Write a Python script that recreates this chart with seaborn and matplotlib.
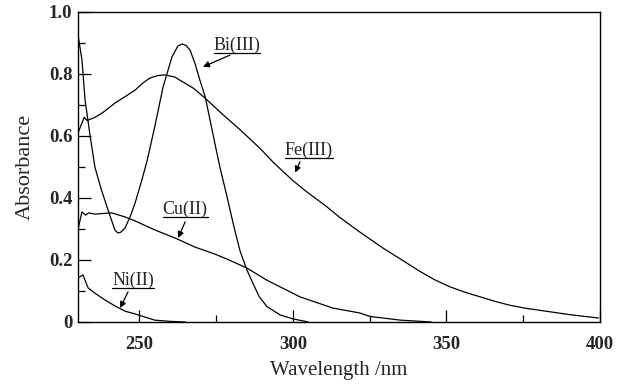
import matplotlib
matplotlib.use("Agg")
import matplotlib.pyplot as plt
import seaborn as sns
import pandas as pd
from matplotlib.ticker import MultipleLocator
from matplotlib.lines import Line2D

# ---- data ----
bi_x = [230, 231.3, 232.3, 234, 235.5, 237.5, 239.8, 242, 243, 244, 245.3, 247, 248.6,
        250.8, 252.5, 255, 257.7, 260.6, 262.5, 263.9, 265.2, 266.5, 268.1, 269.7, 271.4,
        273, 274.6, 276.2, 278.4, 280.6, 282.8, 285, 287.1, 289, 291.5, 295.8, 300, 305]
bi_y = [0.926, 0.845, 0.716, 0.597, 0.50, 0.43, 0.361, 0.297, 0.287, 0.290, 0.303, 0.34, 0.384,
        0.458, 0.52, 0.63, 0.758, 0.855, 0.89, 0.897, 0.892, 0.877, 0.834, 0.78, 0.727,
        0.652, 0.575, 0.50, 0.41, 0.315, 0.228, 0.168, 0.122, 0.082, 0.05, 0.023, 0.01, 0.0]

fe_x = [230, 231, 232, 233, 235.5, 238, 242, 245, 248.6, 251, 253.4, 256, 258.3, 261.6,
        263.2, 267.6, 271.4, 277.3, 282.8, 289.3, 293.6, 300.1, 304.5, 311, 315.3, 321.8,
        329.4, 336, 341.4, 346, 351, 356, 362, 366, 370.7, 376, 383.7, 390, 395, 399.5]
fe_y = [0.61, 0.635, 0.66, 0.65, 0.66, 0.675, 0.706, 0.725, 0.748, 0.77, 0.787, 0.795, 0.797, 0.79,
        0.78, 0.754, 0.722, 0.668, 0.62, 0.56, 0.515, 0.455, 0.42, 0.372, 0.337, 0.29,
        0.238, 0.197, 0.163, 0.137, 0.114, 0.096, 0.078, 0.066, 0.054, 0.044, 0.033, 0.024, 0.018, 0.013]

cu_x = [230, 230.7, 231.3, 232.5, 233.5, 235.5, 238, 241, 245.3, 248.6, 255, 261.6, 268,
        274.6, 278.5, 285, 291.5, 302.3, 313, 321.8, 325, 335, 345]
cu_y = [0.297, 0.33, 0.355, 0.345, 0.352, 0.348, 0.35, 0.352, 0.339, 0.326, 0.297, 0.271, 0.242,
        0.219, 0.203, 0.174, 0.135, 0.081, 0.045, 0.029, 0.018, 0.006, 0.0]

ni_x = [230, 231.6, 233.3, 235.5, 238.8, 242, 245.3, 248.6, 251.8, 255, 260, 265]
ni_y = [0.142, 0.152, 0.11, 0.093, 0.071, 0.052, 0.035, 0.026, 0.016, 0.006, 0.002, 0.0]

labels = ["Bi(III)", "Fe(III)", "Cu(II)", "Ni(II)"]
label_pos = [(281.8, 0.894), (305.2, 0.555), (264.9, 0.363), (247.9, 0.134)]
arrow_start = [(279.5, 0.861), (302.3, 0.517), (264.9, 0.323), (246.3, 0.097)]
arrow_tip = [(270.7, 0.823), (300.7, 0.482), (262.6, 0.271), (243.7, 0.045)]

xticks = [250, 300, 350, 400]
yticks = [0, 0.2, 0.4, 0.6, 0.8, 1.0]
ytick_labels = ["0", "0.2", "0.4", "0.6", "0.8", "1.0"]

# ---- build frame ----
frames = []
for name, xs, ys in [("Bi(III)", bi_x, bi_y), ("Fe(III)", fe_x, fe_y),
                     ("Cu(II)", cu_x, cu_y), ("Ni(II)", ni_x, ni_y)]:
    frames.append(pd.DataFrame({"wl": xs, "abs": ys, "ion": name}))
df = pd.concat(frames, ignore_index=True)

sns.set_theme(style="white")
plt.rcParams["font.family"] = ["Liberation Serif", "DejaVu Serif"]

fig = plt.figure(figsize=(6.32, 3.87), dpi=100)
ax = fig.add_axes([78 / 632, 65 / 387, 522 / 632, 310 / 387])

sns.lineplot(data=df, x="wl", y="abs", units="ion", estimator=None, sort=False,
             color="black", linewidth=0.9, ax=ax, legend=False)

ax.set_xlim(230, 400)
ax.set_ylim(0, 1.0)
ax.set_xticks(xticks)
ax.set_yticks(yticks)
ax.set_yticklabels(ytick_labels)
ax.xaxis.set_minor_locator(MultipleLocator(25))
ax.yaxis.set_minor_locator(MultipleLocator(0.1))
ax.tick_params(which="both", direction="in", bottom=True, left=True, top=False, right=False,
               color="black", width=0.9)
ax.tick_params(which="major", length=9)
ax.tick_params(which="minor", length=5)
ax.tick_params(axis="x", which="major", pad=10)
ax.tick_params(axis="y", which="major", pad=4)
for lab in ax.get_xticklabels() + ax.get_yticklabels():
    lab.set_fontweight("bold")
    lab.set_fontsize(13.5)
for s in ax.spines.values():
    s.set_color("black")
    s.set_linewidth(1.0)

ax.set_xlabel("Wavelength /nm", fontsize=15, labelpad=6)
ax.set_ylabel("Absorbance", fontsize=16, labelpad=10)

texts = []
for lab, (tx, ty), (sx, sy), (ex, ey) in zip(labels, label_pos, arrow_start, arrow_tip):
    texts.append(ax.text(tx, ty, lab, ha="center", va="center", fontsize=13))
    ax.annotate("", xy=(ex, ey), xytext=(sx, sy),
                arrowprops=dict(arrowstyle="-|>", color="black", lw=0.9,
                                mutation_scale=9, shrinkA=0, shrinkB=0))

# underline the labels
fig.canvas.draw()
renderer = fig.canvas.get_renderer()
inv = fig.transFigure.inverted()
for t in texts:
    bb = t.get_window_extent(renderer)
    (x0, y0), (x1, _) = inv.transform([(bb.x0, bb.y0 + 1), (bb.x1, bb.y0 + 1)])
    fig.add_artist(Line2D([x0, x1], [y0, y0], transform=fig.transFigure,
                          color="black", linewidth=0.9))

fig.savefig("out.png", dpi=100)
